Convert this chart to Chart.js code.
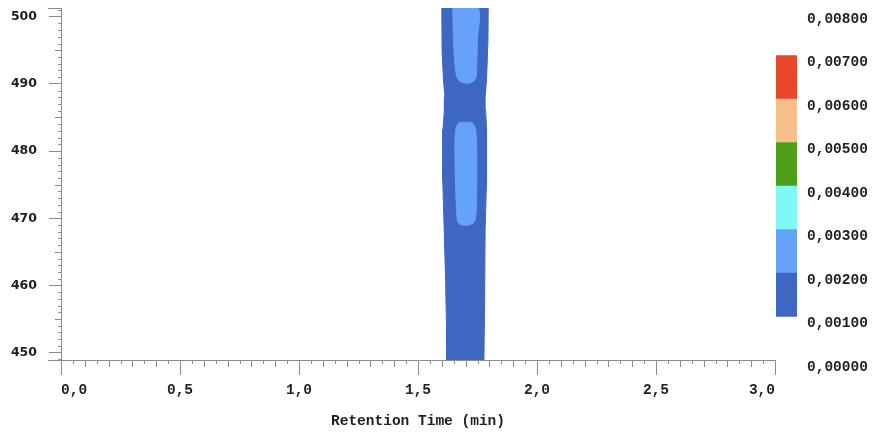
<!DOCTYPE html>
<html>
<head>
<meta charset="utf-8">
<script src="https://cdn.jsdelivr.net/npm/chart.js@4.4.1/dist/chart.umd.min.js"></script>
<style>
  html, body { margin: 0; padding: 0; background: #fff; }
  #wrap { position: relative; width: 873px; height: 439px; }
  #main { position: absolute; left: 0; top: 0; }
  #scale { position: absolute; left: 776px; top: 0; }
</style>
</head>
<body>
<div id="wrap">
  <canvas id="main" width="873" height="439"></canvas>
  <canvas id="scale" width="97" height="439"></canvas>
</div>
<script>
// axis ticks
const timeTicks = [0, 0.5, 1, 1.5, 2, 2.5, 3];
const wlTicks = [450, 460, 470, 480, 490, 500];
const timeRange = [0, 3];
const wlRange = [448.9, 501.3];

// contour levels (absorbance) and their colours
const levelTicks = [0, 0.001, 0.002, 0.003, 0.004, 0.005, 0.006, 0.007, 0.008];
const bandLow = [0.001, 0.002, 0.003, 0.004, 0.005, 0.006];
const bandHigh = [0.002, 0.003, 0.004, 0.005, 0.006, 0.007];
const bandColors = ['#3d67c1', '#66a2fa', '#7ff8f8', '#4c9f17', '#f6bf8b', '#e9472c'];

// contour outlines: retention time (min) / wavelength (nm)
// level 0.001 - whole peak band
const peakTime = [1.600, 1.601, 1.607, 1.613, 1.611, 1.605, 1.604, 1.610, 1.616, 1.620, 1.621,
                  1.777, 1.780, 1.782, 1.788, 1.788, 1.784, 1.782, 1.788, 1.794, 1.795, 1.600];
const peakWl   = [501.3, 495.1, 490.6, 488.1, 486.1, 483.2, 475.7, 468.3, 460.8, 453.4, 448.9,
                  448.9, 457.8, 468.3, 475.7, 483.2, 486.1, 488.1, 490.6, 496.6, 501.3, 501.3];
// level 0.002 - upper maximum
const upperTime = [1.646, 1.649, 1.655, 1.662, 1.675, 1.700, 1.725, 1.742, 1.746, 1.750, 1.753, 1.646];
const upperWl   = [501.3, 496.6, 492.9, 491.2, 490.4, 490.1, 490.2, 490.8, 492.0, 496.6, 501.3, 501.3];
// level 0.002 - lower maximum
const lowerTime = [1.660, 1.672, 1.700, 1.728, 1.740, 1.746, 1.747, 1.745, 1.738, 1.715, 1.685, 1.668, 1.662, 1.657, 1.655, 1.660];
const lowerWl   = [483.6, 484.2, 484.3, 484.2, 483.5, 481.7, 475.7, 471.3, 469.5, 469.0, 469.0, 469.4, 471.3, 475.7, 481.7, 483.6];

const axisGrey = '#8c8c8c';
const textColor = '#222';
const monoFont = { family: 'Liberation Mono', size: 14.5, weight: 'bold' };

function outline(times, wls, color, order, tension) {
    return {
        data: times.map((t, i) => ({ x: t, y: wls[i] })),
        showLine: true,
        fill: 'shape',
        backgroundColor: color,
        borderColor: color,
        borderWidth: 1,
        pointRadius: 0,
        tension: tension,
        order: order
    };
}

// keep the labels from pushing the plot area around
function noPadding(s) {
    s.paddingTop = 0;
    s.paddingBottom = 0;
}

// small ticks between the labelled ones
const minorTicks = {
    id: 'minorTicks',
    afterDraw(chart) {
        const { ctx, chartArea, scales } = chart;
        ctx.save();
        ctx.strokeStyle = axisGrey;
        ctx.lineWidth = 1;
        ctx.beginPath();
        for (let i = 0; i <= 60; i++) {
            const x = Math.round(scales.x.getPixelForValue(i * 0.05)) + 0.5;
            const len = i % 10 === 0 ? 0 : (i % 2 === 0 ? 7 : 4);
            ctx.moveTo(x, chartArea.bottom);
            ctx.lineTo(x, chartArea.bottom + len);
        }
        for (let v = 449; v <= 501; v++) {
            if (v % 10 === 0) continue;
            const y = Math.round(scales.y.getPixelForValue(v)) + 0.5;
            const len = v % 5 === 0 ? 6 : 3;
            ctx.moveTo(chartArea.left, y);
            ctx.lineTo(chartArea.left - len, y);
        }
        // end ticks of the wavelength axis
        [chartArea.top, chartArea.bottom].forEach(y => {
            ctx.moveTo(chartArea.left, Math.round(y) + 0.5);
            ctx.lineTo(chartArea.left - 13, Math.round(y) + 0.5);
        });
        ctx.stroke();
        ctx.restore();
    }
};

new Chart(document.getElementById('main'), {
    type: 'scatter',
    data: {
        datasets: [
            outline(peakTime, peakWl, bandColors[0], 2, 0),
            outline(upperTime, upperWl, bandColors[1], 1, 0.25),
            outline(lowerTime, lowerWl, bandColors[1], 1, 0.25)
        ]
    },
    options: {
        responsive: false,
        animation: false,
        layout: { padding: { top: 8, right: 98, left: 0, bottom: 0 } },
        plugins: { legend: { display: false }, tooltip: { enabled: false } },
        scales: {
            x: {
                type: 'linear',
                min: timeRange[0],
                max: timeRange[1],
                afterBuildTicks: s => { s.ticks = timeTicks.map(v => ({ value: v })); },
                afterFit: s => { s.height = 79; s.paddingLeft = 0; s.paddingRight = 0; },
                grid: { drawOnChartArea: false, tickLength: 15, color: axisGrey, tickColor: axisGrey },
                border: { color: axisGrey },
                ticks: {
                    autoSkip: false,
                    maxRotation: 0,
                    align: 'inner',
                    padding: 7,
                    color: textColor,
                    font: monoFont,
                    callback: v => Number(v).toFixed(1).replace('.', ',')
                },
                title: {
                    display: true,
                    text: 'Retention Time (min)',
                    color: textColor,
                    font: monoFont,
                    padding: { top: 0, bottom: 9 }
                }
            },
            y: {
                type: 'linear',
                min: wlRange[0],
                max: wlRange[1],
                afterBuildTicks: s => { s.ticks = wlTicks.map(v => ({ value: v })); },
                afterFit: s => { s.width = 61; noPadding(s); },
                grid: { drawOnChartArea: false, tickLength: 12, color: axisGrey, tickColor: axisGrey },
                border: { color: axisGrey },
                ticks: {
                    padding: 12,
                    color: textColor,
                    font: { family: 'DejaVu Sans', size: 12.5, weight: 'bold' },
                    callback: v => String(v)
                }
            }
        }
    },
    plugins: [minorTicks]
});

// colour scale on the right
new Chart(document.getElementById('scale'), {
    type: 'bar',
    data: {
        labels: [''],
        datasets: bandLow.map((lo, i) => ({
            data: [[lo, bandHigh[i]]],
            backgroundColor: bandColors[i],
            borderWidth: 0,
            barPercentage: 1,
            categoryPercentage: 1,
            grouped: false
        }))
    },
    options: {
        responsive: false,
        animation: false,
        layout: { padding: { top: 12, bottom: 79, left: 0, right: 0 } },
        plugins: { legend: { display: false }, tooltip: { enabled: false } },
        scales: {
            x: { display: false },
            y: {
                position: 'right',
                min: levelTicks[0],
                max: levelTicks[levelTicks.length - 1],
                afterBuildTicks: s => { s.ticks = levelTicks.map(v => ({ value: v })); },
                afterFit: s => { s.width = 76; noPadding(s); },
                grid: { display: false, drawTicks: false },
                border: { display: false },
                ticks: {
                    padding: 10,
                    labelOffset: 7,
                    color: textColor,
                    font: monoFont,
                    callback: v => Number(v).toFixed(5).replace('.', ',')
                }
            }
        }
    }
});
</script>
</body>
</html>
